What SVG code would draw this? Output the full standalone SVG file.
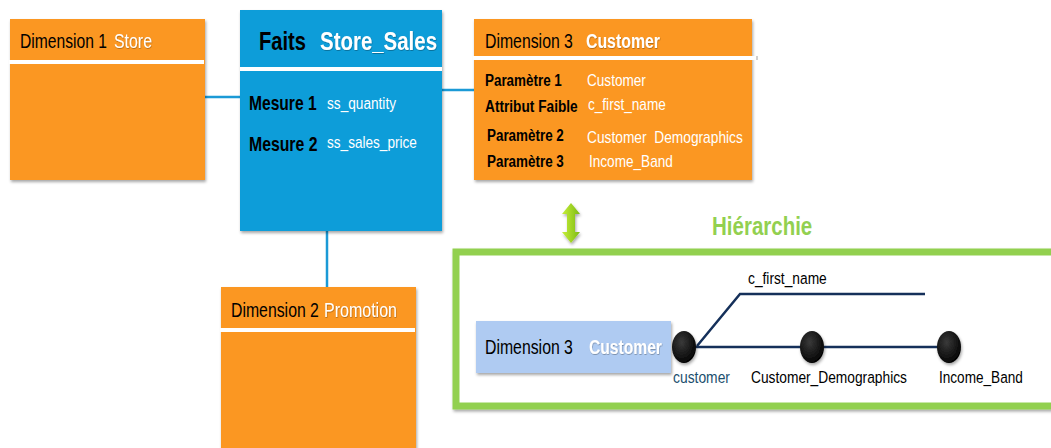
<svg xmlns="http://www.w3.org/2000/svg" width="1051" height="448" viewBox="0 0 1051 448">
<style>
  text { font-family: "Liberation Sans", Arial, sans-serif; }
  .blk { fill: #000; }
  .wht { fill: #fff; }
  .b { font-weight: bold; }
  .h21 { font-size: 21px; }
  .orange { fill: #fb9724; }
  .sep { stroke: #fff; stroke-width: 4; }
  .conn { stroke: #1b9ad6; stroke-width: 2.5; fill: none; }
  .hline { stroke: #15305a; stroke-width: 2.5; fill: none; }
</style>
<defs>
  <filter id="sh" x="-10%" y="-10%" width="130%" height="130%">
    <feDropShadow dx="1" dy="2" stdDeviation="1.5" flood-color="#000" flood-opacity="0.35"/>
  </filter>
  <filter id="tsh" x="-5%" y="-20%" width="110%" height="150%">
    <feDropShadow dx="0.6" dy="0.8" stdDeviation="0.4" flood-color="#000" flood-opacity="0.35"/>
  </filter>
  <linearGradient id="ag" x1="0" y1="0" x2="1" y2="0">
    <stop offset="0" stop-color="#c6ee3a"/>
    <stop offset="1" stop-color="#7dbb12"/>
  </linearGradient>
  <radialGradient id="dg" cx="0.4" cy="0.35" r="0.7">
    <stop offset="0" stop-color="#3a3a3a"/>
    <stop offset="1" stop-color="#000"/>
  </radialGradient>
</defs>

<g id="connectors">
  <line class="conn" x1="205" y1="97" x2="240" y2="97"/>
  <line class="conn" x1="442" y1="90" x2="474" y2="90"/>
  <line class="conn" x1="327" y1="231" x2="327" y2="287"/>
</g>

<g id="dim1">
  <rect class="orange" x="10" y="19" width="195" height="161" filter="url(#sh)"/>
  <line class="sep" x1="9" y1="62" x2="204" y2="62"/>
  <text transform="translate(20,48) scale(0.745,1)" class="blk h21">Dimension 1</text>
  <text transform="translate(114,48) scale(0.757,1)" class="wht h21" filter="url(#tsh)">Store</text>
</g>

<g id="faits">
  <rect fill="#119dd9" x="240" y="10" width="202" height="221" filter="url(#sh)"/>
  <line class="sep" x1="240" y1="69" x2="442" y2="69"/>
  <text transform="translate(259,50) scale(0.805,1)" font-size="25" class="blk b">Faits</text>
  <text transform="translate(320,50) scale(0.818,1)" font-size="25" class="wht b" filter="url(#tsh)">Store_Sales</text>
  <text transform="translate(249,110) scale(0.80,1)" font-size="19.5" class="blk b">Mesure 1</text>
  <text transform="translate(327,109) scale(0.853,1)" font-size="16" class="wht">ss_quantity</text>
  <text transform="translate(249,151) scale(0.81,1)" font-size="19.5" class="blk b">Mesure 2</text>
  <text transform="translate(327,148) scale(0.85,1)" font-size="16" class="wht">ss_sales_price</text>
</g>

<g id="dim3">
  <rect class="orange" x="474" y="19" width="278" height="161" filter="url(#sh)"/>
  <line stroke="#cfcfcf" stroke-width="4" x1="740" y1="58" x2="758" y2="58"/>
  <line class="sep" x1="473" y1="58" x2="756" y2="58"/>
  <text transform="translate(485,48) scale(0.754,1)" class="blk h21">Dimension 3</text>
  <text transform="translate(586,48) scale(0.755,1)" class="wht b h21" filter="url(#tsh)">Customer</text>
  <text transform="translate(485,86) scale(0.79,1)" font-size="17" class="blk b">Paramètre 1</text>
  <text transform="translate(587,86) scale(0.85,1)" font-size="16" class="wht">Customer</text>
  <text transform="translate(485,112) scale(0.805,1)" font-size="17" class="blk b">Attribut Faible</text>
  <text transform="translate(588,110) scale(0.85,1)" font-size="16" class="wht">c_first_name</text>
  <text transform="translate(487,141) scale(0.79,1)" font-size="17" class="blk b">Paramètre 2</text>
  <text transform="translate(587,143) scale(0.86,1)" font-size="16" class="wht" xml:space="preserve">Customer  Demographics</text>
  <text transform="translate(487,167) scale(0.79,1)" font-size="17" class="blk b">Paramètre 3</text>
  <text transform="translate(589,167) scale(0.85,1)" font-size="16" class="wht">Income_Band</text>
</g>

<g id="dim2">
  <rect class="orange" x="221" y="287" width="195" height="170" filter="url(#sh)"/>
  <line class="sep" x1="220" y1="330" x2="415" y2="330"/>
  <text transform="translate(231,317) scale(0.754,1)" class="blk h21">Dimension 2</text>
  <text transform="translate(324,317) scale(0.763,1)" class="wht h21" filter="url(#tsh)">Promotion</text>
</g>

<g id="link-arrow">
  <polygon fill="url(#ag)" filter="url(#sh)" points="571,203 580,214 575,214 575,232 580,232 571,243 562,232 567,232 567,214 562,214"/>
</g>

<g id="hierarchy">
  <rect x="456" y="252" width="610" height="154" fill="#fff" stroke="#92d050" stroke-width="7" filter="url(#sh)"/>
  <text transform="translate(712,235) scale(0.82,1)" font-size="25" fill="#92d050" class="b">Hiérarchie</text>
</g>

<g id="hier-connectors">
  <polyline class="hline" points="697,346 740,294 925,294"/>
  <line class="hline" x1="684" y1="347" x2="949" y2="347"/>
</g>

<g id="dim3-small">
  <rect fill="#afcbf2" x="476" y="321" width="195" height="52" filter="url(#sh)"/>
  <text transform="translate(485,354) scale(0.754,1)" class="blk h21">Dimension 3</text>
  <text transform="translate(589,354) scale(0.745,1)" class="wht b h21" filter="url(#tsh)">Customer</text>
</g>

<g id="level-customer">
  <ellipse cx="684" cy="347" rx="12" ry="16" fill="url(#dg)" filter="url(#sh)"/>
  <text transform="translate(673,383) scale(0.815,1)" font-size="17" fill="#1b4f6e">customer</text>
</g>
<g id="level-demographics">
  <ellipse cx="812" cy="347" rx="12" ry="16" fill="url(#dg)" filter="url(#sh)"/>
  <text transform="translate(751,383) scale(0.81,1)" font-size="17" class="blk">Customer_Demographics</text>
</g>
<g id="level-income">
  <ellipse cx="949" cy="347" rx="12" ry="16" fill="url(#dg)" filter="url(#sh)"/>
  <text transform="translate(939,383) scale(0.80,1)" font-size="17" class="blk">Income_Band</text>
</g>
<g id="attr-first-name">
  <text transform="translate(748,284) scale(0.81,1)" font-size="17" class="blk">c_first_name</text>
</g>
</svg>
